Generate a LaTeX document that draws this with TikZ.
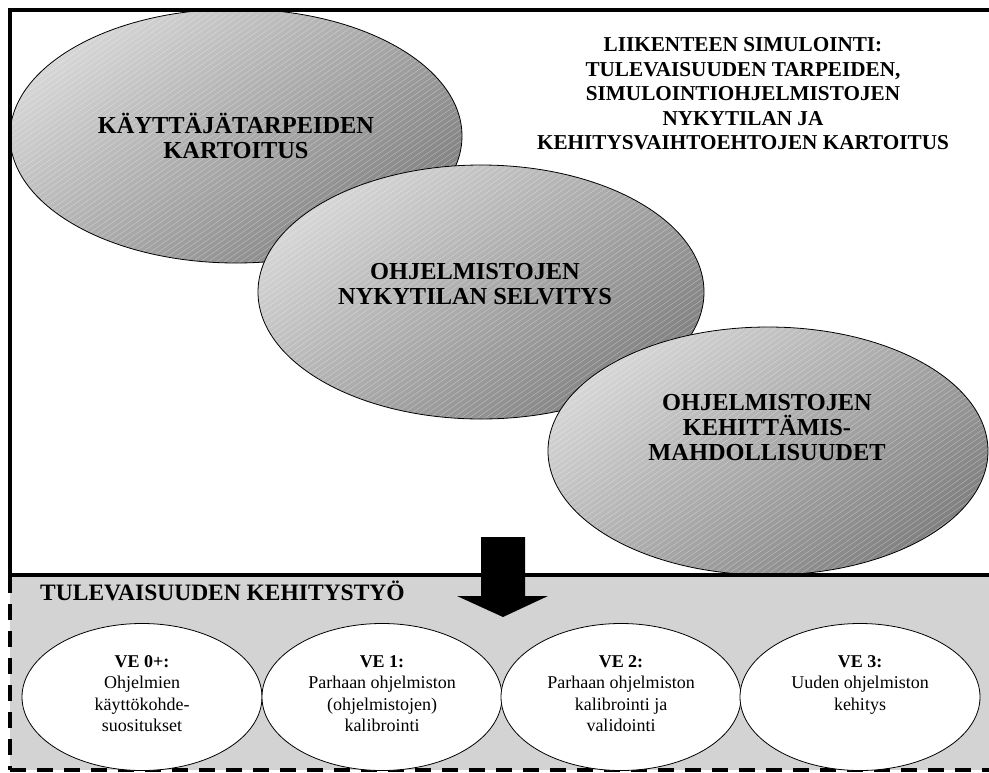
\documentclass[tikz,border=0pt]{standalone}
\usepackage{fontspec}
\setmainfont{Liberation Serif}
\usetikzlibrary{shapes.geometric}

\definecolor{bandgray}{RGB}{211,211,211}
\definecolor{ovallight}{RGB}{214,214,214}
\definecolor{ovaldark}{RGB}{128,128,128}

\tikzset{
  bigoval/.style={ellipse, draw=black, line width=0.8pt, inner sep=0pt,
    minimum width=450pt, minimum height=254pt,
    top color=ovallight, bottom color=ovaldark, shading angle=38,
    path picture={
      \foreach \k in {-56,...,56}
        \draw[white, opacity=0.4, line width=0.4pt]
          ([xshift=\k*8pt]path picture bounding box.center)
          +(-300,210) -- +(300,-210);
    }},
  bigtext/.style={align=center, inner sep=0pt,
    font=\fontsize{24.4}{25}\selectfont\bfseries},
  headtext/.style={align=center, inner sep=0pt,
    font=\fontsize{21.2}{24.5}\selectfont\bfseries},
  smalloval/.style={ellipse, draw=black, line width=0.8pt, fill=white,
    inner sep=0pt, minimum width=240pt, minimum height=147pt},
  smalltext/.style={align=center, inner sep=0pt, anchor=north,
    font=\fontsize{18}{21.5}\selectfont},
  framerule/.style={line width=3.4pt},
  dashrule/.style={line width=4pt, dash pattern=on 16pt off 11pt}
}

\begin{document}
\begin{tikzpicture}[x=1pt,y=-1pt]
  \useasboundingbox (0,0) rectangle (989,772);
  \fill[white] (0,0) rectangle (989,772);

  % lower band
  \fill[bandgray] (10,575) rectangle (989,770);

  % overlapping study phases
  \node[bigoval, minimum width=452pt, minimum height=254pt] (e1) at (236,136) {};
  \node[bigoval, minimum width=446pt, minimum height=254pt] (e2) at (481,292) {};
  \node[bigoval, minimum width=440pt, minimum height=248pt] (e3) at (768,451) {};

  \node[bigtext] (t1) at (236,136) {KÄYTTÄJÄTARPEIDEN\\KARTOITUS};
  \node[bigtext] (t2) at (475,284) {OHJELMISTOJEN\\NYKYTILAN SELVITYS};
  \node[bigtext] (t3) at (767,428) {OHJELMISTOJEN\\KEHITTÄMIS-\\MAHDOLLISUUDET};

  \node[headtext] (head) at (743,94) {LIIKENTEEN SIMULOINTI:\\TULEVAISUUDEN TARPEIDEN,\\SIMULOINTIOHJELMISTOJEN\\NYKYTILAN JA\\KEHITYSVAIHTOEHTOJEN KARTOITUS};

  % frame of the upper part
  \coordinate (tl) at (10,10);
  \coordinate (tr) at (989,10);
  \coordinate (ml) at (10,577);
  \coordinate (sl) at (10,575);
  \coordinate (sr) at (989,575);
  \draw[framerule] (ml) -- (tl) -- (tr);
  \draw[line width=4pt] (sl) -- (sr);

  % dashed edges of the lower band
  \coordinate (bl) at (10,770);
  \coordinate (br) at (989,770);
  \draw[dashrule] (ml) -- (bl);
  \draw[dashrule] (bl) -- (br);

  % downward block arrow
  \fill[black] (481,537) -- (525,537) -- (525,596) -- (548,596) -- (503,617)
    -- (457,596) -- (481,596) -- cycle;

  \node[anchor=base west, inner sep=0pt,
    font=\fontsize{23.5}{25}\selectfont\bfseries] (future) at (40,600)
    {TULEVAISUUDEN KEHITYSTYÖ};

  % development alternatives
  \node[smalloval] (s1) at (142,697) {};
  \node[smalloval] (s2) at (382,697) {};
  \node[smalloval] (s3) at (621,697) {};
  \node[smalloval] (s4) at (860,697) {};

  \node[smalltext] (v1) at (142,655) {\textbf{VE 0+:}\\Ohjelmien\\käyttökohde-\\suositukset};
  \node[smalltext] (v2) at (382,655) {\textbf{VE 1:}\\Parhaan ohjelmiston\\(ohjelmistojen)\\kalibrointi};
  \node[smalltext] (v3) at (621,655) {\textbf{VE 2:}\\Parhaan ohjelmiston\\kalibrointi ja\\validointi};
  \node[smalltext] (v4) at (860,655) {\textbf{VE 3:}\\Uuden ohjelmiston\\kehitys};
\end{tikzpicture}
\end{document}
